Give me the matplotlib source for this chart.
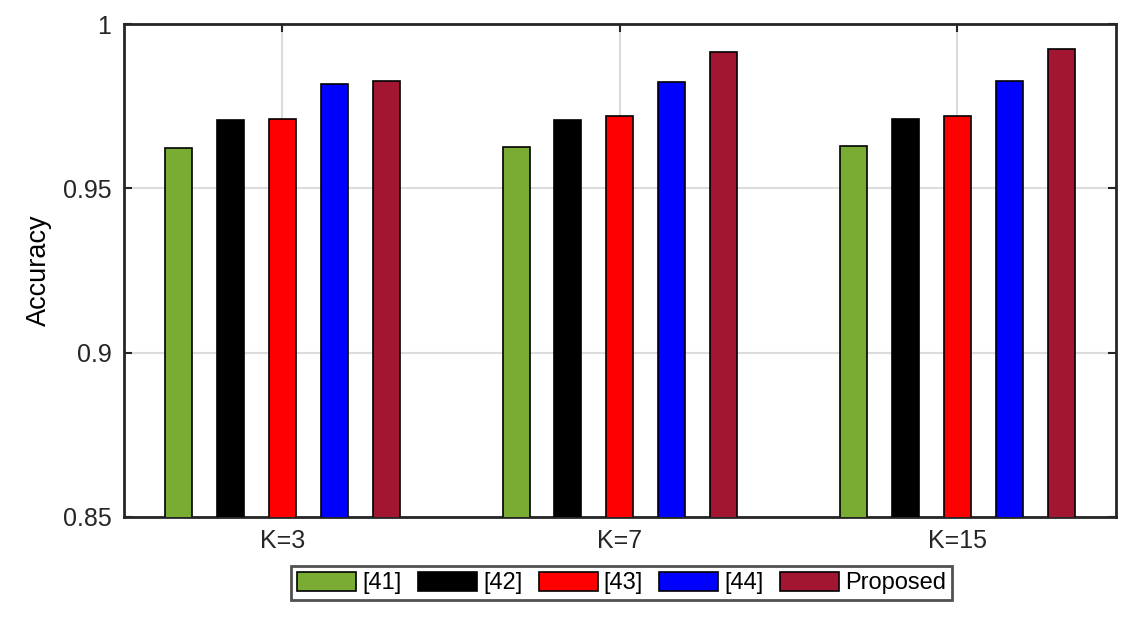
import matplotlib
matplotlib.use('Agg')
import matplotlib.pyplot as plt
import numpy as np

plt.rcParams['font.family'] = ['Liberation Sans', 'DejaVu Sans']

# data
groups = ['K=3', 'K=7', 'K=15']
methods = ['[41]', '[42]', '[43]', '[44]', 'Proposed']
acc_41 = [0.9622, 0.9625, 0.9628]
acc_42 = [0.9708, 0.9708, 0.9711]
acc_43 = [0.9710, 0.9719, 0.9719]
acc_44 = [0.9817, 0.9823, 0.9826]
acc_proposed = [0.9826, 0.9914, 0.9923]
colors = ['#7aab32', '#000000', '#ff0000', '#0000ff', '#a21631']

series = [acc_41, acc_42, acc_43, acc_44, acc_proposed]

fig = plt.figure(figsize=(11.47, 6.25), dpi=100)
ax = fig.add_axes([0.108, 0.1728, 0.865, 0.7888])

x = np.arange(1, len(groups) + 1)
width = 0.08
step = 0.154
for i, (vals, name, col) in enumerate(zip(series, methods, colors)):
    offset = (i - 2) * step
    ax.bar(x + offset, vals, width, color=col, edgecolor='black',
           linewidth=1.2, label=name, zorder=3)

ax.set_xlim(0.53, 3.47)
ax.set_ylim(0.85, 1.0)
ax.set_xticks(x)
ax.set_xticklabels(groups)
ax.set_yticks([0.85, 0.9, 0.95, 1.0])
ax.set_yticklabels(['0.85', '0.9', '0.95', '1'])
ax.set_ylabel('Accuracy', fontsize=19.5, labelpad=8)
ax.tick_params(direction='in', length=6, width=1.5, labelsize=18,
               top=True, right=True, colors='#262626', labelcolor='#262626')
ax.tick_params(axis='x', pad=9)
ax.tick_params(axis='y', pad=9)
ax.grid(True, color='#dcdcdc', linewidth=1.5, zorder=0)
for s in ax.spines.values():
    s.set_linewidth(2)
    s.set_color('#262626')

leg = fig.legend(loc='center', bbox_to_anchor=(0.542, 0.067), ncol=5,
                 fontsize=17, frameon=True, fancybox=False,
                 handlelength=2.5, handleheight=0.85, handletextpad=0.25,
                 columnspacing=0.7, borderpad=0.25, borderaxespad=0)
leg.get_frame().set_edgecolor('#262626')
leg.get_frame().set_linewidth(2)

fig.savefig('out.png', dpi=100)
